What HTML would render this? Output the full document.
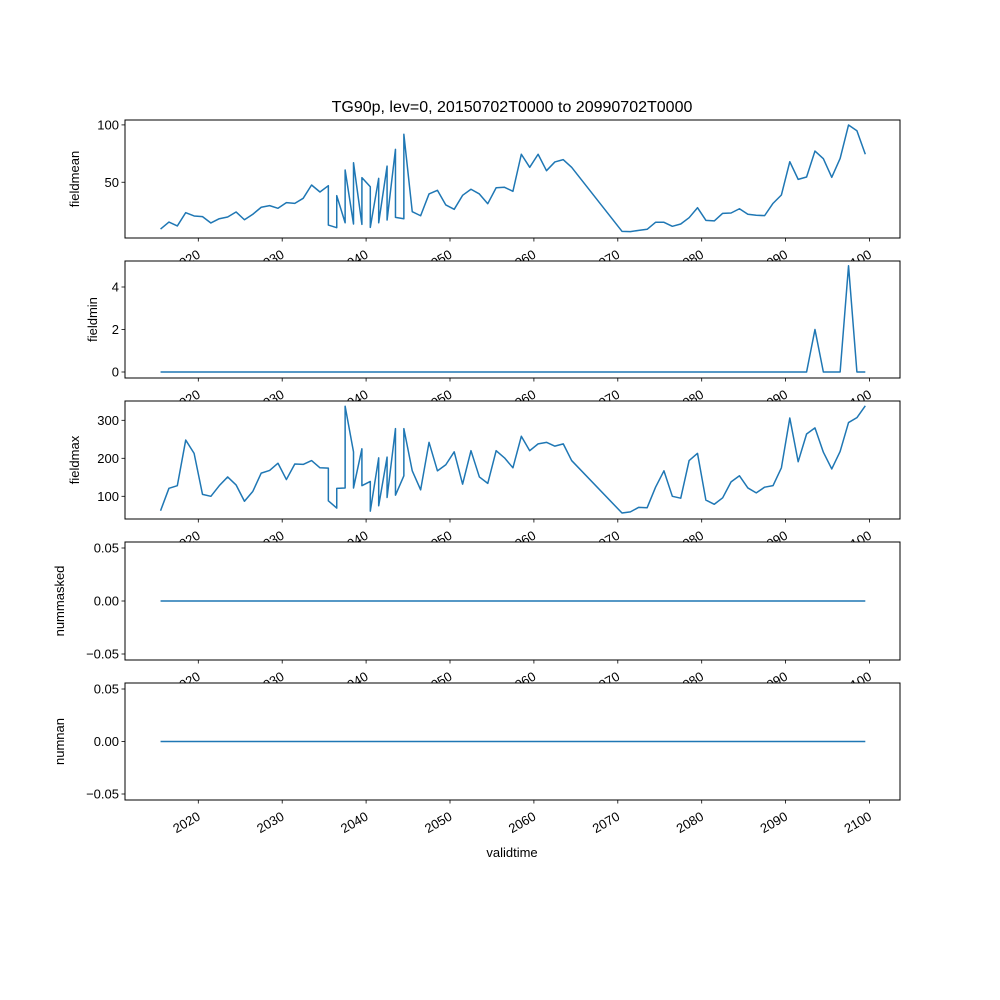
<!DOCTYPE html>
<html><head><meta charset="utf-8"><style>
html,body{margin:0;padding:0;background:#fff}
svg{display:block;font-family:"Liberation Sans","DejaVu Sans",sans-serif}
</style></head><body>
<svg id="chart" width="1000" height="1000" viewBox="0 0 1000 1000">
<rect width="1000" height="1000" fill="#fff"/>
<text x="512" y="112" font-size="16" text-anchor="middle">TG90p, lev=0, 20150702T0000 to 20990702T0000</text>
<g id="panels"></g>
<text x="512" y="857" font-size="13" text-anchor="middle">validtime</text>
</svg>
<script>
// year values (time axis), shared by all series
const years = [2015.5,2016.5,2017.5,2018.5,2019.5,2020.5,2021.5,2022.5,2023.5,2024.5,2025.5,2026.5,2027.5,2028.5,2029.5,2030.5,2031.5,2032.5,2033.5,2034.5,
2035.5,2035.5,2036.5,2036.5,2037.5,2037.5,2038.5,2038.5,2039.5,2039.5,2040.5,2040.5,2041.5,2041.5,2042.5,2042.5,2043.5,2043.5,2044.5,2044.5,
2045.5,2046.5,2047.5,2048.5,2049.5,2050.5,2051.5,2052.5,2053.5,2054.5,2055.5,2056.5,2057.5,2058.5,2059.5,2060.5,2061.5,2062.5,2063.5,2064.5,
2070.5,2071.5,2072.5,2073.5,2074.5,2075.5,2076.5,2077.5,2078.5,2079.5,2080.5,2081.5,2082.5,2083.5,2084.5,2085.5,2086.5,2087.5,2088.5,2089.5,
2090.5,2091.5,2092.5,2093.5,2094.5,2095.5,2096.5,2097.5,2098.5,2099.5];
const fieldmean = [9.2,15.3,11.9,23.5,20.6,20.0,14.5,18.2,19.7,24.1,17.3,22.1,28.2,29.6,27.3,32.2,31.6,36.0,47.6,41.5,
47.0,12.7,10.4,38.3,14.7,60.7,13.6,67.0,13.3,54.0,46.1,10.7,53.4,14.7,64.1,17.1,78.7,19.4,18.2,91.8,
24.3,20.8,39.8,43.0,30.2,26.4,38.6,43.9,39.8,31.3,45.2,45.6,42.1,74.4,63.0,74.4,60.1,67.7,69.7,63.0,
7.2,7.0,8.0,9.0,15.1,15.1,11.6,13.6,19.1,27.8,16.8,16.3,22.9,23.2,26.9,22.1,21.2,20.9,31.6,38.9,
67.9,52.5,54.6,77.2,70.5,54.3,70.8,99.9,94.9,74.4];
const fieldmax = [62,121,128,248,213,105,100,128,151,130,87,113,161,168,187,144,185,184,194,175,
174,88,69,121,122,337,217,122,225,128,139,61,201,75,203,97,278,103,154,278,
167,117,242,167,183,217,132,220,151,134,220,201,175,258,220,238,242,232,238,194,
56,59,71,70,124,167,100,95,194,213,90,79,96,138,154,122,109,124,128,175,
306,191,264,280,216,172,218,294,307,338];
const fieldmin = years.map(y => y === 2093.5 ? 2 : (y === 2097.5 ? 5 : 0));
const nummasked = years.map(() => 0);
const numnan = years.map(() => 0);
const xTicks = [2020,2030,2040,2050,2060,2070,2080,2090,2100];
const meanTicks = [50,100];
const minTicks = [0,2,4];
const maxTicks = [100,200,300];
const zeroTicks = [-0.05,0,0.05];

const NS = "http://www.w3.org/2000/svg";
const root = document.getElementById('panels');
const L = 125, R = 900;
const xs = y => 198.3 + (y - 2020) * 8.39;
function mk(tag, attrs, parent){const e=document.createElementNS(NS,tag);for(const k in attrs)e.setAttribute(k,attrs[k]);parent.appendChild(e);return e;}

const panels = [
 {name:'fieldmean', top:120, bot:238, vmin:(239.6-238)/-1.147*-1, data:fieldmean, ticks:meanTicks, fmt:v=>String(v), ylx:75, ys:v=>239.6-v*1.147},
 {name:'fieldmin', top:261, bot:378, data:fieldmin, ticks:minTicks, fmt:v=>String(v), ylx:93, ys:v=>372-v*21.25},
 {name:'fieldmax', top:401, bot:519, data:fieldmax, ticks:maxTicks, fmt:v=>String(v), ylx:75, ys:v=>534.3-v*0.38},
 {name:'nummasked', top:542, bot:660, data:nummasked, ticks:zeroTicks, fmt:v=>v<0?'\u22120.05':v.toFixed(2), ylx:60, ys:v=>601-v*1060},
 {name:'numnan', top:683, bot:800, data:numnan, ticks:zeroTicks, fmt:v=>v<0?'\u22120.05':v.toFixed(2), ylx:60, ys:v=>741.5-v*1050}
];

panels.forEach(p => {
  const g = mk('g', {}, root);
  
  
  mk('rect', {x:L, y:p.top, width:R-L, height:p.bot-p.top, fill:'#fff'}, g);
  const pts = years.map((y,i) => xs(y).toFixed(2) + ',' + p.ys(p.data[i]).toFixed(2)).join(' ');
  const line = mk('polyline', {points:pts, fill:'none', stroke:'#1f77b4', 'stroke-width':1.5, 'stroke-linejoin':'round'}, g);
  
  
  mk('rect', {x:L, y:p.top, width:R-L, height:p.bot-p.top, fill:'none', stroke:'#000', 'stroke-width':1}, g);
  p.ticks.forEach(t => {
    const y = p.ys(t);
    mk('line', {x1:L-3.5, x2:L, y1:y, y2:y, stroke:'#000', 'stroke-width':0.8}, g);
    const tx = mk('text', {x:L-6, y:y+4.5, 'font-size':13, 'text-anchor':'end'}, g);
    tx.textContent = p.fmt(t);
    
    
  });
  xTicks.forEach(t => {
    const x = xs(t);
    mk('line', {x1:x, x2:x, y1:p.bot, y2:p.bot+3.5, stroke:'#000', 'stroke-width':0.8}, g);
    const tx = mk('text', {'font-size':13, 'text-anchor':'end', transform:'translate(' + (x+3) + ',' + (p.bot+19) + ') rotate(-30)'}, g);
    tx.textContent = String(t);
    
    
  });
  const yl = mk('text', {'font-size':13, 'text-anchor':'middle', transform:'translate(' + (p.ylx+4) + ',' + ((p.top+p.bot)/2) + ') rotate(-90)'}, g);
  yl.textContent = p.name;
  
  
});
</script>
</body></html>
